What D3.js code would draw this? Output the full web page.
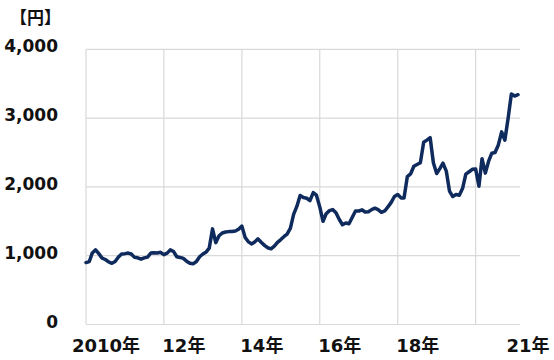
<!DOCTYPE html>
<html>
<head>
<meta charset="utf-8">
<script src="https://cdn.jsdelivr.net/npm/d3@7"></script>
<style>
  html, body { margin: 0; padding: 0; background: #ffffff; }
  svg { display: block; }
  text { font-family: "DejaVu Sans", "Noto Sans CJK JP", sans-serif; font-weight: bold; fill: #111111; }
</style>
</head>
<body>
<script>
// ---- data (monthly, Jan 2010 – Feb 2021) ----
const startMonth = "2010-01";
const prices = [
  900, 915, 1040, 1085, 1030, 965, 945, 910, 890, 915, 980, 1025,
  1030, 1038, 1025, 976, 970, 950, 968, 980, 1039, 1044, 1039, 1049,
  1015, 1038, 1085, 1060, 985, 975, 960, 920, 890, 882, 915, 985,
  1025, 1055, 1110, 1390, 1190, 1290, 1330, 1344, 1350, 1352, 1360, 1385,
  1430, 1265, 1205, 1171, 1200, 1245, 1195, 1150, 1115, 1100, 1140, 1195,
  1235, 1280, 1315, 1400, 1600, 1720, 1875, 1845, 1835, 1800, 1918, 1880,
  1710, 1500, 1610, 1655, 1670, 1623, 1530, 1450, 1476, 1465, 1560, 1650,
  1650, 1667, 1635, 1640, 1670, 1690, 1670, 1630, 1650, 1710, 1775, 1860,
  1890, 1840, 1840, 2150, 2188, 2300, 2325, 2350, 2650, 2680, 2715, 2350,
  2195, 2270, 2345, 2230, 1940, 1860, 1889, 1880, 1980, 2185, 2220, 2255,
  2261, 2010, 2410, 2200, 2370, 2490, 2500, 2610, 2800, 2680, 3000, 3350,
  3320, 3340
];
const yTicks = [0, 1000, 2000, 3000, 4000];
const gridYears = [2010, 2012, 2014, 2016, 2018, 2020];
const xLabelYears = [2010, 2012, 2014, 2016, 2018, 2021];
const xLabels = ["2010年", "12年", "14年", "16年", "18年", "21年"];
const unitLabel = "【円】";

// ---- layout ----
const W = 554, H = 360;
const plotLeft = 86, plotRight = 520, plotTop = 49.3, plotBottom = 324.5;

const parseMonth = d3.timeParse("%Y-%m");
const t0 = parseMonth(startMonth);
const data = prices.map((v, i) => ({ date: d3.timeMonth.offset(t0, i), value: v }));

const x = d3.scaleTime()
  .domain([new Date(2010, 0, 1), new Date(2021, 0, 1)])
  .range([plotLeft, plotLeft + 3.2475 * 132]);
const y = d3.scaleLinear().domain([0, 4000]).range([plotBottom, plotTop]);

const svg = d3.select("body").append("svg").attr("width", W).attr("height", H);

// horizontal gridlines
svg.append("g").selectAll("line").data(yTicks).join("line")
  .attr("x1", plotLeft).attr("x2", plotRight)
  .attr("y1", d => y(d)).attr("y2", d => y(d))
  .attr("stroke", "#d9d9d9").attr("stroke-width", 1.2);

// vertical gridlines
svg.append("g").selectAll("line").data(gridYears).join("line")
  .attr("x1", d => x(new Date(d, 0, 1))).attr("x2", d => x(new Date(d, 0, 1)))
  .attr("y1", plotTop).attr("y2", plotBottom)
  .attr("stroke", "#d9d9d9").attr("stroke-width", 1.2);

// y labels
const fmt = d3.format(",");
svg.append("g").selectAll("text").data(yTicks).join("text")
  .attr("x", 58).attr("y", d => y(d) + 3)
  .attr("text-anchor", "end")
  .style("font-size", "17px")
  .text(d => fmt(d));

// x labels
svg.append("g").selectAll("text").data(xLabelYears).join("text")
  .attr("x", d => Math.min(x(new Date(d, 0, 1)) + 20, W - 26))
  .attr("y", 352)
  .attr("text-anchor", "middle")
  .style("font-size", "18px")
  .text((d, i) => xLabels[i]);

// unit
svg.append("text").attr("x", 10).attr("y", 24)
  .style("font-size", "17px").text(unitLabel);

// line
const line = d3.line().x(d => x(d.date)).y(d => y(d.value)).curve(d3.curveLinear);
svg.append("path").datum(data)
  .attr("d", line)
  .attr("fill", "none")
  .attr("stroke", "#0f2a5c")
  .attr("stroke-width", 3.5)
  .attr("stroke-linejoin", "round")
  .attr("stroke-linecap", "round");
</script>
</body>
</html>
